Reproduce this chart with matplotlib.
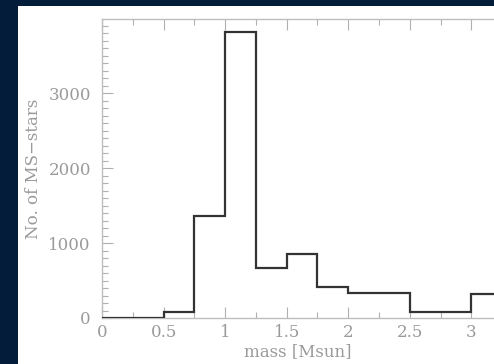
import numpy as np
import matplotlib.pyplot as plt
from matplotlib.patches import Rectangle
from matplotlib.ticker import MultipleLocator, FuncFormatter

# mass bins [Msun] and number of main-sequence stars per bin
bin_edges = [0, 0.25, 0.5, 0.75, 1.0, 1.25, 1.5, 1.75, 2.0, 2.25, 2.5, 2.75, 3.0, 3.25]
n_stars = [0, 0, 80, 1360, 3810, 665, 860, 415, 340, 340, 80, 80, 325]

W, H = 494, 364
fig = plt.figure(figsize=(W / 100, H / 100), dpi=100)
fig.patch.set_facecolor("#021c3a")

# white panel behind the plot
fig.patches.append(Rectangle((18 / W, 0), 1 - 18 / W, 1 - 6 / H,
                             transform=fig.transFigure, facecolor="white",
                             edgecolor="none", zorder=-1))

left, right, top, bottom = 102, 496, 19, 318
ax = fig.add_axes([left / W, 1 - bottom / H, (right - left) / W, (bottom - top) / H])
ax.set_facecolor("white")

ax.stairs(n_stars, bin_edges, color="#333333", linewidth=1.6, zorder=3)

ax.set_xlim(0, 3.2)
ax.set_ylim(0, 3990)

grey = "#9a9a9a"
for s in ax.spines.values():
    s.set_color("#bdbdbd")
    s.set_linewidth(1.0)
ax.spines["right"].set_visible(False)

ax.xaxis.set_major_locator(MultipleLocator(0.5))
ax.xaxis.set_minor_locator(MultipleLocator(0.25))
ax.yaxis.set_major_locator(MultipleLocator(1000))
ax.yaxis.set_minor_locator(MultipleLocator(100))
ax.xaxis.set_major_formatter(FuncFormatter(lambda v, p: f"{v:g}"))
ax.yaxis.set_major_formatter(FuncFormatter(lambda v, p: f"{v:g}"))

ax.tick_params(which="both", direction="in", top=True, right=False,
               color="#b0b0b0", width=0.8, labelsize=12, labelcolor=grey,
               labelfontfamily="DejaVu Serif")
ax.tick_params(which="major", length=8)
ax.tick_params(which="minor", length=4)
ax.tick_params(axis="x", which="major", pad=4)
ax.tick_params(axis="y", which="major", pad=8)

font = dict(family="DejaVu Serif", size=12, color=grey)
ax.set_xlabel("mass [Msun]", **font)
ax.set_ylabel("No. of MS\u2212stars", **font)
ax.xaxis.set_label_coords((298 - left) / (right - left), -(352 - bottom) / (bottom - top))
ax.yaxis.set_label_coords(-(left - 33) / (right - left), 0.5)
ax.xaxis.label.set_va("center")
ax.yaxis.label.set_va("center")

fig.savefig("out.png", dpi=100, facecolor=fig.get_facecolor())
